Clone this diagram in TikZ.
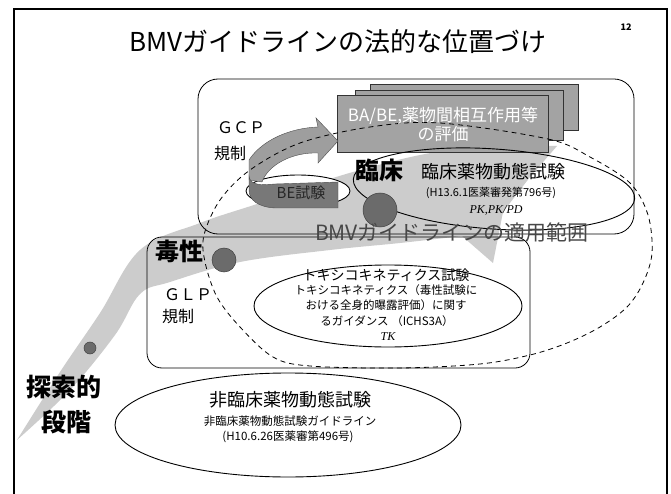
\documentclass[tikz,border=0pt]{standalone}
\usepackage{fontspec}
\setmainfont{Noto Sans CJK JP}
\newfontfamily\serifit{Liberation Serif}
\definecolor{swooshgray}{gray}{0.80}
\definecolor{rectgray}{gray}{0.64}
\definecolor{arrowlight}{gray}{0.62}
\definecolor{arrowdark}{gray}{0.47}
\definecolor{dotgray}{gray}{0.42}
\tikzset{
  lbl/.style={inner sep=0pt, font=\fontsize{#1}{#1}\selectfont},
  blbl/.style={inner sep=0pt, font=\fontsize{#1}{#1}\selectfont\bfseries},
  itlbl/.style={inner sep=0pt, font=\serifit\itshape\fontsize{#1}{#1}\selectfont},
  region/.style={draw=black, line width=0.8pt, rounded corners=#1},
  oval/.style={draw=black, line width=0.9pt},
  dot/.style={fill=dotgray, draw=black!75, line width=0.5pt},
  stack/.style={fill=rectgray, draw=black!80, line width=0.6pt},
  scope-dash/.style={draw=black, line width=0.8pt, dash pattern=on 5pt off 4pt}
}
\begin{document}
\begin{tikzpicture}[x=1pt,y=-1pt]
\useasboundingbox (0,0) rectangle (671,494);
\fill[white] (0,0) rectangle (671,494);
% slide frame
\draw[line width=2pt] (14,500) -- (14,9) -- (667,9) -- (667,500);

% big light swoosh
\fill[swooshgray] plot[smooth,tension=0.6] coordinates {(17,440) (60,372) (100,313) (140,250) (200,223) (260,203) (353,172) (450,150) (557,146)}
  -- (530,177) -- (503,212) -- (493,263)
  -- plot[smooth,tension=0.6] coordinates {(462,236) (400,243) (330,250) (240,262) (170,282) (140,294) (115,335) (70,390) (17,440)} -- cycle;
\fill[dot] (90,348) circle[radius=6pt];

% region boxes
\draw[region=20pt] (198,79) rectangle (634,234);
\draw[region=15pt] (147,237) rectangle (530,368);

% non-clinical ellipse
\draw[oval] (288,425) ellipse[x radius=173pt, y radius=52pt];

% stacked evaluation sheets
\draw[stack] (370,84) rectangle (578,130);
\draw[stack] (355,90) rectangle (563,140);
\draw[stack] (337,95) rectangle (548,152);

% BE ellipse and GCP arrow
\draw[oval, fill=white] (298,191) ellipse[x radius=52pt, y radius=16pt];
\fill[arrowlight, draw=black!70, line width=0.4pt] (249,180) -- (249,160)
  .. controls (262,140) and (290,128) .. (318,127) -- (316,118) -- (338,141)
  -- (318,163) -- (318,153) .. controls (292,152) and (268,165) .. (262,182) -- cycle;
\fill[arrowdark, draw=black!70, line width=0.4pt] (249,176)
  .. controls (250,186) and (262,185) .. (275,184) -- (338,182) -- (338,208)
  -- (275,208) .. controls (258,207) and (249,200) .. (249,190) -- cycle;

% clinical ellipse
\draw[oval] (494,189) ellipse[x radius=141pt, y radius=40pt, rotate=-4];
\fill[dot] (380,210) circle[radius=17pt];

% toxicokinetics ellipse
\draw[oval, fill=white] (388,306) ellipse[x radius=134pt, y radius=41pt];
\fill[dot] (224,260) circle[radius=12pt];

% BMV guideline scope (dashed)
\draw[scope-dash] plot[smooth cycle,tension=0.55] coordinates {(440,123) (548,139) (590,157) (630,183) (648,215) (652,253) (643,283) (627,307) (600,327) (567,343) (530,355) (480,364) (400,368) (310,366) (273,357) (240,327) (217,297) (205,262) (204,235) (220,200) (250,170) (300,143) (370,127)};

% texts
\node[lbl=26] (title) at (338,42) {BMVガイドラインの法的な位置づけ};
\node[lbl=9, font=\fontsize{9}{9}\selectfont\bfseries] (pageno) at (626,27) {12};
\node[lbl=16] (gcp) at (241,128) {ＧＣＰ};
\node[lbl=16] (gcpreg) at (230,153) {規制};
\node[lbl=17, text=white] (ba1) at (443,116) {BA/BE,薬物間相互作用等};
\node[lbl=17, text=white] (ba2) at (443,134) {の評価};
\node[lbl=15, text=black!85] (betext) at (301,193) {BE試験};
\node[blbl=24] (rinsho) at (379,170) {臨床};
\node[lbl=18] (rinsho1) at (493,172) {臨床薬物動態試験};
\node[lbl=11] (rinsho2) at (491,193) {(H13.6.1医薬審発第796号)};
\node[itlbl=12] (pkpd) at (496,210) {PK,PK/PD};
\node[lbl=21, text=black!72] (bmv) at (452,233) {BMVガイドラインの適用範囲};
\node[blbl=24] (doku) at (179,251) {毒性};
\node[lbl=16] (glp) at (188,295) {ＧＬＰ};
\node[lbl=16] (glpreg) at (178,316) {規制};
\node[lbl=14] (tk1) at (386,275) {トキシコキネティクス試験};
\node[lbl=11.5] (tk2) at (386,290) {トキシコキネティクス（毒性試験に};
\node[lbl=11.5] (tk3) at (386,305) {おける全身的曝露評価）に関す};
\node[lbl=11.5] (tk4) at (387,321) {るガイダンス （ICHS3A）};
\node[itlbl=12] (tk5) at (388,337) {TK};
\node[blbl=25] (tansaku) at (64,387) {探索的};
\node[blbl=25] (danka) at (66,422) {段階};
\node[lbl=18] (hi1) at (290,400) {非臨床薬物動態試験};
\node[lbl=11.5] (hi2) at (290,421) {非臨床薬物動態試験ガイドライン};
\node[lbl=11.5] (hi3) at (288,437) {(H10.6.26医薬審第496号)};
\end{tikzpicture}
\end{document}
